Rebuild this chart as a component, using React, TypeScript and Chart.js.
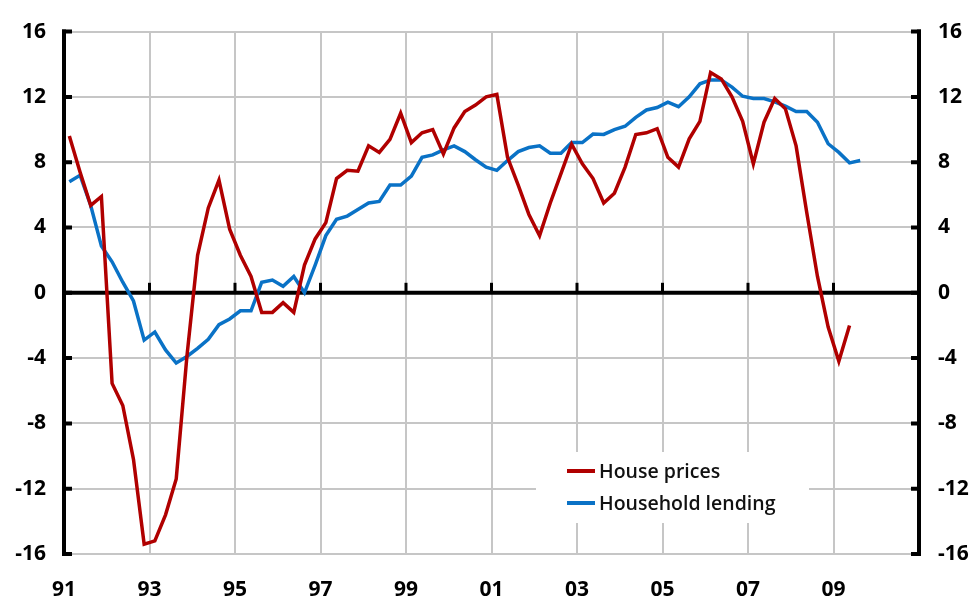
import React, { useEffect, useRef } from 'react';
import { Chart, registerables } from 'chart.js';

Chart.register(...registerables);

// Quarterly categories, 1991Q1 ... 2009Q4
const quarters: string[] = [];
for (let yr = 1991; yr <= 2009; yr++) {
  for (let q = 1; q <= 4; q++) quarters.push(`${yr}Q${q}`);
}

const seriesLabels = ['House prices', 'Household lending'];

const housePrices = [
  9.6, 7.4, 5.35, 5.9, -5.55, -6.9, -10.2, -15.4,
  -15.2, -13.6, -11.4, -3.9, 2.3, 5.2, 6.9, 3.9,
  2.3, 1.0, -1.2, -1.2, -0.6, -1.2, 1.7, 3.3,
  4.3, 7.0, 7.5, 7.45, 9.0, 8.6, 9.4, 11.0,
  9.2, 9.8, 10.0, 8.5, 10.1, 11.1, 11.5, 12.0,
  12.15, 8.3, 6.6, 4.8, 3.5, 5.5, 7.3, 9.1,
  7.9, 7.0, 5.5, 6.1, 7.7, 9.7, 9.8, 10.05,
  8.3, 7.7, 9.43, 10.5, 13.5, 13.1, 12.0, 10.5,
  7.9, 10.45, 11.9, 11.27, 9.0, 4.9, 1.0, -2.1,
  -4.2, -2.0,
];

const householdLending = [
  6.8, 7.2, 5.35, 2.86, 1.9, 0.65, -0.5, -2.9,
  -2.4, -3.5, -4.3, -3.9, -3.4, -2.85, -1.95, -1.6,
  -1.1, -1.1, 0.65, 0.78, 0.4, 1.0, 0.0, 1.7,
  3.5, 4.5, 4.7, 5.1, 5.5, 5.6, 6.6, 6.6,
  7.15, 8.3, 8.45, 8.75, 9.0, 8.65, 8.15, 7.7,
  7.5, 8.1, 8.65, 8.9, 9.0, 8.55, 8.55, 9.2,
  9.2, 9.72, 9.7, 10.0, 10.2, 10.75, 11.2, 11.35,
  11.68, 11.4, 12.0, 12.8, 13.04, 13.04, 12.6, 12.04,
  11.9, 11.9, 11.7, 11.43, 11.1, 11.1, 10.45, 9.13,
  8.6, 7.96, 8.1,
];

const xTickYears = [1991, 1993, 1995, 1997, 1999, 2001, 2003, 2005, 2007, 2009, 2011];
const xTickLabels = ['91', '93', '95', '97', '99', '01', '03', '05', '07', '09', ''];
const yTickValues = [-16, -12, -8, -4, 0, 4, 8, 12, 16];

const seriesColors = ['#b00000', '#0a72c6'];

// position each quarter at its mid-point in decimal years
function quarterToYear(label: string): number {
  const yr = parseInt(label.slice(0, 4), 10);
  const q = parseInt(label.slice(5), 10);
  return yr + (q - 0.5) / 4;
}

function toPoints(values: number[]) {
  return values.map((v, i) => ({ x: quarterToYear(quarters[i]), y: v }));
}

const FONT = "'Open Sans', 'Noto Sans', 'DejaVu Sans', sans-serif";

const framePlugin = {
  id: 'framePlugin',
  beforeDatasetsDraw(chart: any) {
    const { ctx, chartArea } = chart;
    const xs = chart.scales.x;
    const ys = chart.scales.y;
    const { left, right, top, bottom } = chartArea;
    ctx.save();
    // legend background box
    ctx.fillStyle = '#ffffff';
    ctx.fillRect(536, 452, 273, 71);

    ctx.strokeStyle = '#000';
    ctx.lineCap = 'butt';
    // zero line
    const y0 = ys.getPixelForValue(0);
    ctx.lineWidth = 4;
    ctx.beginPath();
    ctx.moveTo(left, y0);
    ctx.lineTo(right, y0);
    ctx.stroke();
    // ticks on zero line
    ctx.lineWidth = 3;
    xTickYears.slice(1, -1).forEach((yr) => {
      const px = xs.getPixelForValue(yr);
      ctx.beginPath();
      ctx.moveTo(px, y0);
      ctx.lineTo(px, y0 - 10);
      ctx.stroke();
    });
    // side axes
    ctx.lineWidth = 4;
    ctx.beginPath();
    ctx.moveTo(left, top - 2);
    ctx.lineTo(left, bottom + 2);
    ctx.moveTo(right, top - 2);
    ctx.lineTo(right, bottom + 2);
    ctx.stroke();
    // inward ticks on both side axes
    yTickValues.forEach((v) => {
      const py = ys.getPixelForValue(v);
      ctx.beginPath();
      ctx.moveTo(left - 2, py);
      ctx.lineTo(left + 8, py);
      ctx.moveTo(right + 2, py);
      ctx.lineTo(right - 8, py);
      ctx.stroke();
    });

    // legend entries
    ctx.font = `600 19.5px ${FONT}`;
    ctx.textBaseline = 'middle';
    ctx.textAlign = 'left';
    chart.data.datasets.forEach((ds: any, i: number) => {
      const ly = 471 + i * 32;
      ctx.strokeStyle = ds.borderColor;
      ctx.lineWidth = 4;
      ctx.beginPath();
      ctx.moveTo(567, ly);
      ctx.lineTo(595, ly);
      ctx.stroke();
      ctx.fillStyle = '#111';
      ctx.fillText(ds.label, 599, ly + 1);
    });
    ctx.restore();
  },
};

export default function App() {
  const canvasRef = useRef<HTMLCanvasElement | null>(null);

  useEffect(() => {
    document.body.style.margin = '0';
    const canvas = canvasRef.current;
    if (!canvas) return;
    const tickFont = { family: FONT, size: 21, weight: 'bold' as const };
    const chart = new Chart(canvas, {
      type: 'line',
      data: {
        datasets: [
          {
            label: seriesLabels[0],
            data: toPoints(housePrices),
            borderColor: seriesColors[0],
            backgroundColor: seriesColors[0],
            borderWidth: 3.5,
            pointRadius: 0,
            tension: 0,
            yAxisID: 'y',
          },
          {
            label: seriesLabels[1],
            data: toPoints(householdLending),
            borderColor: seriesColors[1],
            backgroundColor: seriesColors[1],
            borderWidth: 3.5,
            pointRadius: 0,
            tension: 0,
            yAxisID: 'y',
          },
        ],
      },
      options: {
        responsive: false,
        maintainAspectRatio: false,
        animation: false,
        devicePixelRatio: 1,
        layout: { padding: { top: 29, left: 0, right: 0, bottom: 0 } },
        plugins: {
          legend: { display: false },
          tooltip: { enabled: false },
        },
        scales: {
          x: {
            type: 'linear',
            min: 1991,
            max: 2011,
            afterBuildTicks: (s: any) => {
              s.ticks = xTickYears.map((v) => ({ value: v }));
            },
            afterFit: (s: any) => {
              s.height = 44;
            },
            grid: {
              color: (c: any) =>
                c.tick && (c.tick.value === 1991 || c.tick.value === 2011) ? 'rgba(0,0,0,0)' : '#c6c6c6',
              lineWidth: 2,
              drawTicks: false,
            },
            border: { display: false },
            ticks: {
              padding: 23,
              color: '#000',
              font: tickFont,
              maxRotation: 0,
              autoSkip: false,
              callback: (v: any) => {
                const idx = xTickYears.indexOf(Number(v));
                return idx >= 0 ? xTickLabels[idx] : '';
              },
            },
          },
          y: {
            position: 'left',
            min: -16,
            max: 16,
            afterBuildTicks: (s: any) => {
              s.ticks = yTickValues.map((v) => ({ value: v }));
            },
            afterFit: (s: any) => {
              s.width = 64;
            },
            grid: { color: '#c6c6c6', lineWidth: 2, drawTicks: false },
            border: { display: false },
            ticks: { padding: 18, color: '#000', font: tickFont },
          },
          y2: {
            position: 'right',
            min: -16,
            max: 16,
            afterBuildTicks: (s: any) => {
              s.ticks = yTickValues.map((v) => ({ value: v }));
            },
            afterFit: (s: any) => {
              s.width = 57;
            },
            grid: { display: false, drawTicks: false },
            border: { display: false },
            ticks: { padding: 19, color: '#000', font: tickFont },
          },
        },
      },
      plugins: [framePlugin],
    });
    return () => chart.destroy();
  }, []);

  return (
    <div style={{ width: 976, height: 598, position: 'relative', background: '#fff' }}>
      <canvas ref={canvasRef} width={976} height={598} style={{ width: 976, height: 598, display: 'block' }} />
    </div>
  );
}
